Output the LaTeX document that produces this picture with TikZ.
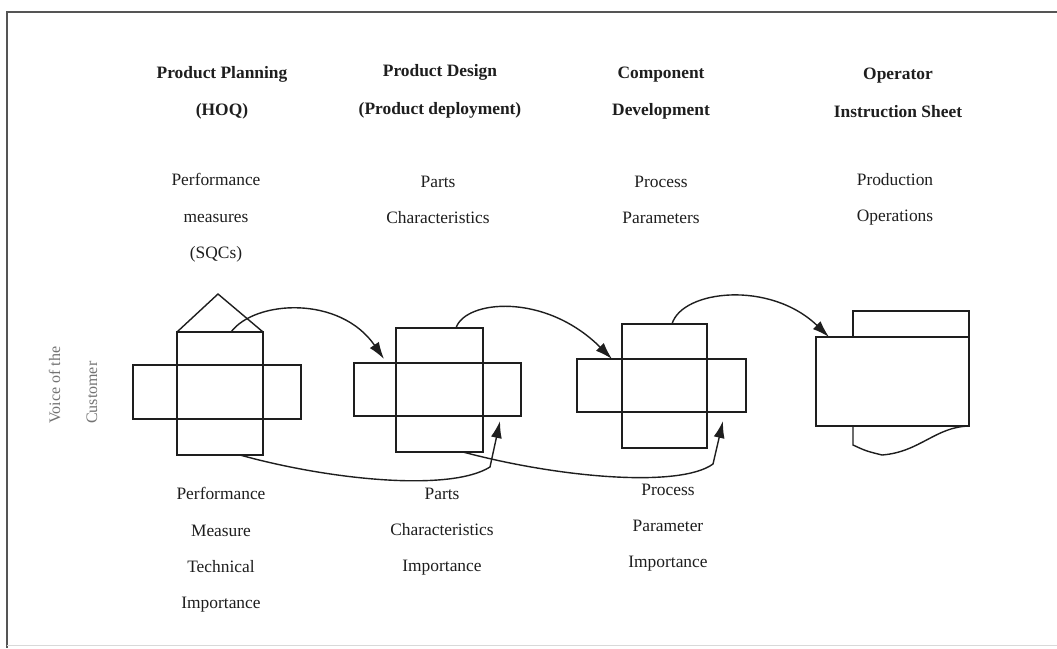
\documentclass[tikz,border=0pt]{standalone}
\usepackage{fontspec}
\setmainfont{Liberation Serif}
\usetikzlibrary{arrows.meta}
\definecolor{ink}{HTML}{1E1E1E}
\definecolor{frameink}{HTML}{555555}
\begin{document}
\begin{tikzpicture}[x=1pt,y=-1pt,
  part/.style={draw=ink, line width=1.4pt, inner sep=0pt, outer sep=0pt},
  flow/.style={draw=ink, line width=1.4pt, -{Latex[length=17pt,width=11pt]}},
  lbl/.style={font=\fontsize{17.4}{36.3}\selectfont, text=ink, align=center, inner sep=0pt},
  head/.style={font=\fontsize{17.4}{37.5}\selectfont\bfseries, text=ink, align=center, inner sep=0pt},
  side/.style={font=\fontsize{16}{37}\selectfont, text=black!55, align=left, inner sep=0pt}]
\useasboundingbox (0,0) rectangle (1057,648);
\fill[white] (0,0) rectangle (1057,648);
% frame
\draw[frameink, line width=1.8pt] (1057,12) -- (7,12) -- (7,648);
\draw[black!15, line width=1pt] (7,645) -- (1057,645);

% headers
\node[head] (h1) at (222,93) {Product Planning\\(HOQ)};
\node[head] (h2) at (440,91.5) {Product Design\\(Product deployment)};
\node[head] (h3) at (661,93) {Component\\Development};
\node[head] (h4) at (898,93) {Operator\\Instruction Sheet};

% upper labels
\node[lbl] (u1) at (216,218) {Performance\\measures\\(SQCs)};
\node[lbl] (u2) at (438,200) {Parts\\Characteristics};
\node[lbl] (u3) at (661,200) {Process\\Parameters};
\node[lbl] (u4) at (895,199) {Production\\Operations};

% lower labels
\node[lbl] (l1) at (221,550) {Performance\\Measure\\Technical\\Importance};
\node[lbl] (l2) at (442,531.5) {Parts\\Characteristics\\Importance};
\node[lbl] (l3) at (668,527.5) {Process\\Parameter\\Importance};

% side text
\node[side, rotate=90, anchor=west] (voc) at (73,424) {Voice of the\\Customer};

% matrix 1 (house of quality)
\node[part, minimum width=86pt, minimum height=123pt] (c1) at (220,393.5) {};
\node[part, minimum width=168pt, minimum height=54pt] (b1) at (217,392) {};
\coordinate (roof1) at (218,294);
\draw[ink, line width=1.4pt, line join=miter] (c1.north west) -- (roof1) -- (c1.north east);

% matrix 2
\node[part, minimum width=87pt, minimum height=124pt] (c2) at (439.5,390) {};
\node[part, minimum width=167pt, minimum height=53pt] (b2) at (437.5,389.5) {};

% matrix 3
\node[part, minimum width=85pt, minimum height=124pt] (c3) at (664.5,386) {};
\node[part, minimum width=169pt, minimum height=53pt] (b3) at (661.5,385.5) {};

% sheet 4
\node[part, minimum width=116pt, minimum height=26pt] (t4) at (911,324) {};
\node[part, minimum width=153pt, minimum height=89pt] (s4) at (892.5,381.5) {};
\coordinate (w0) at (853,426);
\coordinate (w1) at (853,445);
\coordinate (w2) at (882,455);
\draw[ink, line width=1.4pt] (w0) -- (w1) .. controls (866,451) .. (w2)
   .. controls (920,452) and (935,427) .. (s4.south east);

% connector end points
\coordinate (a1s) at (231,332);
\coordinate (a1e) at (384,359);
\coordinate (a2s) at (456,328);
\coordinate (a2e) at (612,359);
\coordinate (a3s) at (672,324);
\coordinate (a3e) at (829,337);
\coordinate (a4s) at (240,455);
\coordinate (a4k) at (490,467);
\coordinate (a4e) at (500,421);
\coordinate (a5s) at (463,452);
\coordinate (a5k) at (713,464);
\coordinate (a5e) at (723,421);

% upper connectors
\draw[flow] (a1s) .. controls (255,300) and (340,295) .. (a1e);
\draw[flow] (a2s) .. controls (465,300) and (545,292) .. (a2e);
\draw[flow] (a3s) .. controls (682,290) and (770,280) .. (a3e);

% lower connectors
\draw[flow] (a4s) .. controls (330,480) and (450,492) .. (a4k) -- (a4e);
\draw[flow] (a5s) .. controls (560,478) and (680,488) .. (a5k) -- (a5e);
\end{tikzpicture}
\end{document}
